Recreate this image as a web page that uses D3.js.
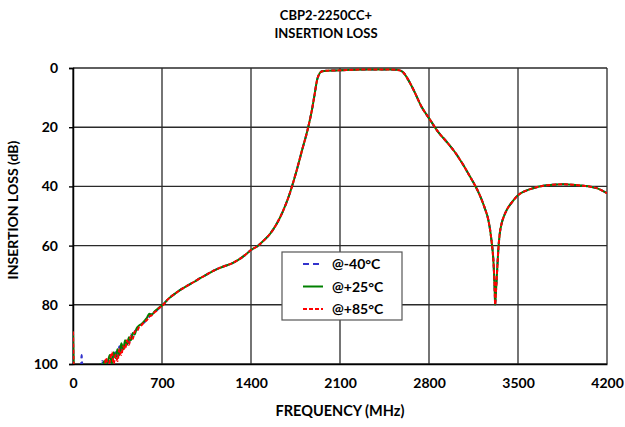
<!DOCTYPE html>
<html><head><meta charset="utf-8">
<script src="https://cdn.jsdelivr.net/npm/d3@7"></script>
<style>
body{margin:0;background:#fff;}
text{font-family:Lato,"Liberation Sans",sans-serif;font-weight:bold;fill:#000;}
</style></head>
<body><svg id="c" width="625" height="427"></svg>
<script>
// ---------- data ----------
const titleLines = ["CBP2-2250CC+", "INSERTION LOSS"];
const xTicks = [0, 700, 1400, 2100, 2800, 3500, 4200];
const yTicks = [0, 20, 40, 60, 80, 100];
const seriesNames = ["@-40°C", "@+25°C", "@+85°C"];

// low-frequency (noisy) region, per series
const lowFreq = [0, 8, 20, 40, 60, 68, 76, 100, 150, 200, 215, 230, 245, 260, 275, 290, 305, 320, 335, 350, 365, 380, 395, 410, 425, 440, 455, 470, 485, 500, 520, 540, 560, 580, 600, 620, 640, 660, 680, 700];
const lowM40 = [101, 104, 106, 104, 103, 97, 104, 106, 105, 104, 101, 99, 103, 100, 98, 101, 97, 99, 96, 98, 94, 96, 93, 94, 92, 93, 90, 91, 89, 88.5, 87.5, 86.5, 86, 85, 84, 83.2, 82.5, 81.8, 81, 80.3];
const lowP25 = [89, 103, 106, 104, 104, 104, 104, 105, 104, 103, 100, 102, 99, 101, 99, 97, 100, 96, 98, 95, 97, 93, 95, 92, 93.5, 91, 92, 89.5, 90, 88, 87, 86.5, 85.5, 84.5, 83, 83.3, 82.3, 81.6, 80.8, 80.2];
const lowP85 = [89, 104, 106, 104, 104, 104, 104, 106, 105, 104, 103, 100, 102, 98, 101, 99, 96, 100, 97, 99, 95, 97, 94, 95, 92, 93.5, 90.5, 91.5, 89, 89, 87.5, 86.8, 85.8, 85.2, 84, 83.5, 82.6, 81.9, 81, 80.4];

// common part (all three temperatures overlap)
const mainFreq = [750, 800, 850, 900, 950, 1000, 1050, 1100, 1150, 1200, 1250, 1300, 1350, 1400, 1450, 1500, 1550, 1600, 1650, 1700, 1750, 1800, 1850, 1880, 1900, 1920, 1940, 1960, 2000, 2100, 2200, 2300, 2400, 2500, 2540, 2570, 2600, 2630, 2680, 2740, 2810, 2870, 2940, 3000, 3070, 3120, 3160, 3200, 3240, 3265, 3280, 3292, 3301, 3309, 3314, 3318, 3320, 3326, 3332, 3339, 3345, 3355, 3372, 3390, 3411, 3450, 3502, 3560, 3620, 3700, 3752, 3856, 3950, 4013, 4070, 4119, 4200];
const mainLoss = [78, 76.3, 74.8, 73.5, 72.3, 71, 69.8, 68.6, 67.6, 66.8, 66, 64.8, 63.3, 61.5, 60.2, 58.3, 56, 52.8, 48.5, 43, 36, 28, 20, 14, 9, 4, 1.8, 1.1, 0.9, 0.8, 0.6, 0.5, 0.5, 0.5, 0.6, 0.8, 1.6, 3.5, 7.5, 13, 17.6, 21.5, 25, 28.2, 32.8, 36.5, 39.5, 43, 47.5, 51, 54.5, 58.5, 62, 67, 72, 77, 80, 76, 71.5, 66, 61.5, 56.5, 52.4, 50, 48, 45.5, 42.9, 41.5, 40.6, 39.8, 39.5, 39.3, 39.5, 39.8, 40.1, 40.6, 42.3];

const colors = ["#3333cc", "#008000", "#ff0000"];
const dashes = ["6,4", null, "4,2"];

// ---------- layout ----------
const svg = d3.select("#c");
const L = 73, R = 607, T = 68, B = 364;
const x = d3.scaleLinear().domain([0, 4200]).range([L, R]);
const y = d3.scaleLinear().domain([0, 100]).range([T, B]);

svg.append("defs").append("clipPath").attr("id", "clip")
  .append("rect").attr("x", L).attr("y", T).attr("width", R - L).attr("height", B - T);

// grid
const g = svg.append("g");
g.selectAll(".gx").data(xTicks).join("line")
  .attr("x1", d => x(d)).attr("x2", d => x(d)).attr("y1", T).attr("y2", B)
  .attr("stroke", "#3a3a3a").attr("stroke-width", 1.4);
g.selectAll(".gy").data(yTicks).join("line")
  .attr("x1", L).attr("x2", R).attr("y1", d => y(d)).attr("y2", d => y(d))
  .attr("stroke", "#2a2a2a").attr("stroke-width", 1.4);

// axes
const fmt = d3.format("d");
const yAxis = d3.axisLeft(y).tickValues(yTicks).tickFormat(fmt).tickSize(4).tickPadding(11);
const ya = svg.append("g").attr("transform", `translate(${L},0)`).call(yAxis);
ya.select(".domain").attr("stroke", "#000").attr("stroke-width", 1.5);
ya.selectAll(".tick line").attr("stroke", "#000").attr("stroke-width", 1.4);
ya.selectAll("text").style("font-size", "14px").style("font-family", "Lato").style("font-weight", "bold").attr("fill", "#000");

const xAxis = d3.axisBottom(x).tickValues(xTicks).tickFormat(fmt).tickSize(0).tickPadding(14);
const xa = svg.append("g").attr("transform", `translate(0,${B})`).call(xAxis);
xa.select(".domain").attr("stroke", "#000").attr("stroke-width", 1.5);
xa.selectAll("text").style("font-size", "14px").style("font-family", "Lato").style("font-weight", "bold").attr("fill", "#000");

// data
const lowSeries = [lowM40, lowP25, lowP85];
const line = d3.line().x(d => x(d[0])).y(d => y(d[1])).curve(d3.curveMonotoneX);
const plot = svg.append("g").attr("clip-path", "url(#clip)");
lowSeries.forEach((low, i) => {
  const pts = lowFreq.map((f, k) => [f, low[k]]).concat(mainFreq.map((f, k) => [f, mainLoss[k]]));
  plot.append("path").datum(pts).attr("d", line)
    .attr("fill", "none").attr("stroke", colors[i]).attr("stroke-width", 2)
    .attr("stroke-dasharray", dashes[i]);
});

// titles
svg.append("text").attr("x", 326).attr("y", 20).attr("text-anchor", "middle").style("font-size", "13px").text(titleLines[0]);
svg.append("text").attr("x", 326).attr("y", 38).attr("text-anchor", "middle").style("font-size", "13px").text(titleLines[1]);
svg.append("text").attr("x", 340).attr("y", 416).attr("text-anchor", "middle").style("font-size", "14.5px").text("FREQUENCY (MHz)");
svg.append("text").attr("transform", "translate(18,210) rotate(-90)").attr("text-anchor", "middle").style("font-size", "14px").text("INSERTION LOSS (dB)");

// legend
const lg = svg.append("g");
lg.append("rect").attr("x", 282).attr("y", 252).attr("width", 120).attr("height", 68)
  .attr("fill", "#fff").attr("stroke", "#555").attr("stroke-width", 1.2);
seriesNames.forEach((n, i) => {
  const yy = 264 + i * 22.5;
  lg.append("line").attr("x1", 303).attr("x2", 323).attr("y1", yy).attr("y2", yy)
    .attr("stroke", colors[i]).attr("stroke-width", 2).attr("stroke-dasharray", dashes[i]);
  lg.append("text").attr("x", 332).attr("y", yy + 5).style("font-size", "14px").text(n);
});
</script></body></html>
